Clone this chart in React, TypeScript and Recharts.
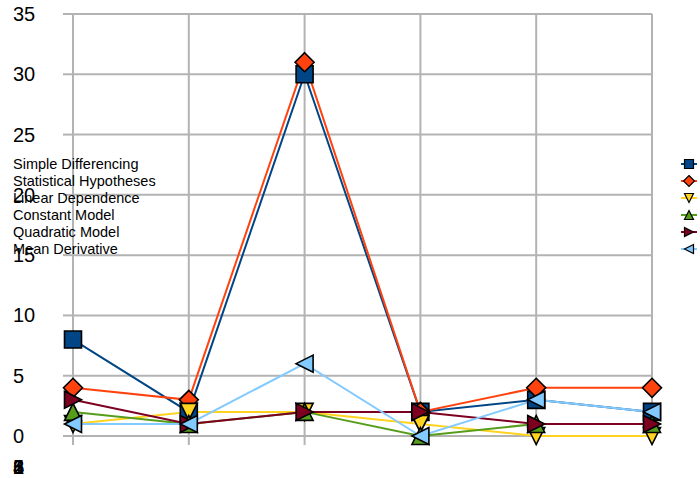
import React from "react";
import { LineChart, Line, XAxis, YAxis, CartesianGrid } from "recharts";

const categories = ["1", "2", "3", "4", "5", "6"];
const simpleDifferencing = [8, 2, 30, 2, 3, 2];
const statisticalHypotheses = [4, 3, 31, 2, 4, 4];
const linearDependence = [1, 2, 2, 1, 0, 0];
const constantModel = [2, 1, 2, 0, 1, 1];
const quadraticModel = [3, 1, 2, 2, 1, 1];
const meanDerivative = [1, 1, 6, 0, 3, 2];
const yTicks = [0, 5, 10, 15, 20, 25, 30, 35];

const seriesList = [
  { key: "sd", name: "Simple Differencing", values: simpleDifferencing, color: "#004586", shape: "square" },
  { key: "sh", name: "Statistical Hypotheses", values: statisticalHypotheses, color: "#ff420e", shape: "diamond" },
  { key: "ld", name: "Linear Dependence", values: linearDependence, color: "#ffd320", shape: "down" },
  { key: "cm", name: "Constant Model", values: constantModel, color: "#579d1c", shape: "up" },
  { key: "qm", name: "Quadratic Model", values: quadraticModel, color: "#7e0021", shape: "right" },
  { key: "md", name: "Mean Derivative", values: meanDerivative, color: "#83caff", shape: "left" },
];

const data = categories.map((c, i) => {
  const row: any = { cat: c };
  seriesList.forEach((s) => (row[s.key] = s.values[i]));
  return row;
});

const FONT = "'Liberation Sans', Arial, sans-serif";
const GRID = "#b3b3b3";

function markerPath(shape: string, cx: number, cy: number, r: number) {
  switch (shape) {
    case "square":
      return `M${cx - r},${cy - r}H${cx + r}V${cy + r}H${cx - r}Z`;
    case "diamond":
      return `M${cx},${cy - r - 1}L${cx + r + 1},${cy}L${cx},${cy + r + 1}L${cx - r - 1},${cy}Z`;
    case "down":
      return `M${cx - r},${cy - r}L${cx + r},${cy - r}L${cx},${cy + r}Z`;
    case "up":
      return `M${cx - r},${cy + r}L${cx + r},${cy + r}L${cx},${cy - r}Z`;
    case "right":
      return `M${cx - r},${cy - r}L${cx + r},${cy}L${cx - r},${cy + r}Z`;
    case "left":
      return `M${cx + r},${cy - r}L${cx - r},${cy}L${cx + r},${cy + r}Z`;
  }
  return "";
}

const makeDot = (shape: string, color: string) => (props: any) => {
  const { cx, cy, index } = props;
  if (cx == null || cy == null) return <g key={index} />;
  return (
    <path
      key={index}
      d={markerPath(shape, cx, cy, 8.5)}
      fill={color}
      stroke="#000"
      strokeWidth={1.6}
      strokeLinejoin="miter"
    />
  );
};

const YTick = (props: any) => {
  const { y, payload } = props;
  return (
    <text x={13} y={y + 7} fontSize={20} fontFamily={FONT} fill="#000" textAnchor="start">
      {payload.value}
    </text>
  );
};

const XTick = (props: any) => {
  const { payload } = props;
  return (
    <text x={13} y={474} fontSize={20} fontFamily={FONT} fill="#000" textAnchor="start">
      {payload.value}
    </text>
  );
};

export default function App() {
  return (
    <div style={{ position: "absolute", left: 0, top: 0, width: 700, height: 478, background: "#fff" }}>
      <LineChart
        width={700}
        height={478}
        data={data}
        margin={{ top: 14, right: 48, bottom: 0, left: 0 }}
      >
        <CartesianGrid stroke={GRID} strokeWidth={2} />
        <XAxis
          dataKey="cat"
          height={42}
          axisLine={false}
          tickSize={9}
          tickLine={{ stroke: GRID, strokeWidth: 2 }}
          tick={<XTick />}
          interval={0}
        />
        <YAxis
          width={73}
          domain={[0, 35]}
          ticks={yTicks}
          axisLine={false}
          tickSize={10}
          tickLine={{ stroke: GRID, strokeWidth: 2 }}
          tick={<YTick />}
          interval={0}
        />
        {seriesList.map((s) => (
          <Line
            key={s.key}
            dataKey={s.key}
            name={s.name}
            stroke={s.color}
            strokeWidth={2}
            type="linear"
            dot={makeDot(s.shape, s.color)}
            activeDot={false}
            isAnimationActive={false}
          />
        ))}
      </LineChart>
      <svg
        width={700}
        height={478}
        style={{ position: "absolute", left: 0, top: 0, pointerEvents: "none" }}
      >
        {seriesList.map((s, i) => {
          const cy = 164 + i * 17;
          return (
            <g key={s.key}>
              <text x={13} y={cy + 5} fontSize={14.5} fontFamily={FONT} fill="#000">
                {s.name}
              </text>
              <line x1={681} x2={697} y1={cy} y2={cy} stroke={s.color} strokeWidth={2} />
              <path d={markerPath(s.shape, 689, cy, 4.5)} fill={s.color} stroke="#000" strokeWidth={1.2} />
            </g>
          );
        })}
      </svg>
    </div>
  );
}
